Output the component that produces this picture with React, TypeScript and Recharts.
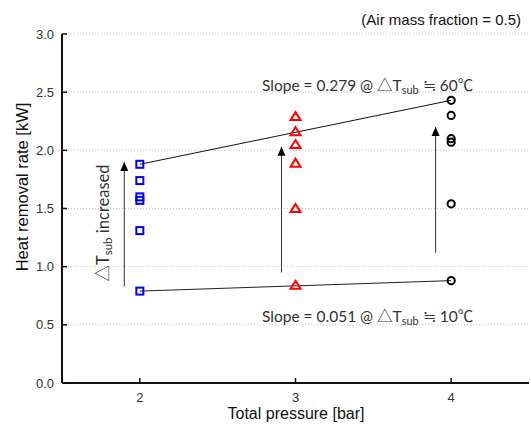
import { CartesianGrid, ComposedChart, Line, ReferenceLine, Scatter, XAxis, YAxis } from "recharts";

const pressureTicks = [2, 3, 4];
const rateTicks = [0, 0.5, 1, 1.5, 2, 2.5, 3];

const bluePressure = 2;
const blueRates = [1.88, 1.74, 1.6, 1.57, 1.31, 0.79];
const redPressure = 3;
const redRates = [2.29, 2.16, 2.05, 1.89, 1.5, 0.84];
const blackPressure = 4;
const blackRates = [2.43, 2.3, 2.1, 2.07, 1.54, 0.88];

const fitHigh = [
  { x: 2, y: 1.88 },
  { x: 4, y: 2.43 },
];
const fitLow = [
  { x: 2, y: 0.79 },
  { x: 4, y: 0.88 },
];

const arrowX = [1.9, 2.91, 3.9];
const arrowFrom = [0.83, 0.95, 1.12];
const arrowTo = [1.9, 2.03, 2.2];

const W = 531;
const H = 430;
const sans = "Arial, 'Liberation Sans', sans-serif";
const note = "Lato, 'Noto Sans CJK KR', sans-serif";

const toPts = (x: number, ys: number[]) => ys.map((y) => ({ x, y }));
const arrowHeads = arrowX.map((x, i) => ({ x, y: arrowTo[i] }));

const Square = ({ cx, cy }: any) => (
  <rect x={cx - 3.5} y={cy - 3.5} width={7} height={7} fill="none" stroke="#0000ff" strokeWidth={2} />
);
const Tri = ({ cx, cy }: any) => (
  <path d={`M${cx},${cy - 4.5} L${cx + 5},${cy + 3.5} L${cx - 5},${cy + 3.5} Z`} fill="none" stroke="#ff0000" strokeWidth={2} />
);
const Ring = ({ cx, cy }: any) => <circle cx={cx} cy={cy} r={3.6} fill="none" stroke="#000" strokeWidth={2} />;
const Head = ({ cx, cy }: any) => <path d={`M${cx},${cy} L${cx + 4},${cy + 9} L${cx - 4},${cy + 9} Z`} fill="#000" />;

const BottomTick = ({ x, y, payload }: any) => (
  <g>
    <line x1={x} x2={x} y1={y} y2={y - 5} stroke="#111" strokeWidth={1.5} />
    <text x={x} y={y + 19} textAnchor="middle" fontSize={13} fill="#333" fontFamily={sans}>
      {payload.value}
    </text>
  </g>
);
const TopTick = ({ x, y }: any) => <line x1={x} x2={x} y1={y} y2={y + 5} stroke="#111" strokeWidth={1.5} />;
const LeftTick = ({ x, y, payload }: any) => (
  <g>
    <line x1={x} x2={x + 5} y1={y} y2={y} stroke="#111" strokeWidth={1.5} />
    <text x={x - 8} y={y + 4.5} textAnchor="end" fontSize={13} fill="#333" fontFamily={sans}>
      {Number(payload.value).toFixed(1)}
    </text>
  </g>
);

export default function App() {
  return (
    <div style={{ position: "absolute", left: 0, top: 0, width: W, height: H, background: "#fff" }}>
      <ComposedChart width={W} height={H} margin={{ top: 34, right: 2, bottom: 0, left: 0 }}>
        <CartesianGrid vertical={false} stroke="#c4c4c4" strokeDasharray="1 2" />
        <XAxis
          dataKey="x"
          type="number"
          domain={[1.5, 4.5]}
          ticks={pressureTicks}
          interval={0}
          height={47}
          tickSize={0}
          tickMargin={0}
          tickLine={false}
          axisLine={{ stroke: "#111", strokeWidth: 2 }}
          tick={<BottomTick />}
          allowDataOverflow
        />
        <XAxis
          xAxisId="top"
          orientation="top"
          type="number"
          domain={[1.5, 4.5]}
          ticks={pressureTicks}
          interval={0}
          height={0}
          tickSize={0}
          tickMargin={0}
          tickLine={false}
          axisLine={{ stroke: "#111", strokeWidth: 2 }}
          tick={<TopTick />}
          allowDataOverflow
        />
        <YAxis
          dataKey="y"
          type="number"
          domain={[0, 3]}
          ticks={rateTicks}
          interval={0}
          width={62}
          tickSize={0}
          tickMargin={0}
          tickLine={false}
          axisLine={{ stroke: "#111", strokeWidth: 2 }}
          tick={<LeftTick />}
          allowDataOverflow
        />
        <YAxis
          yAxisId="r"
          orientation="right"
          type="number"
          domain={[0, 3]}
          width={0}
          tick={false}
          tickLine={false}
          axisLine={{ stroke: "#111", strokeWidth: 2 }}
        />
        <Line data={fitHigh} dataKey="y" stroke="#111" strokeWidth={1} dot={false} isAnimationActive={false} />
        <Line data={fitLow} dataKey="y" stroke="#222" strokeWidth={1} dot={false} isAnimationActive={false} />
        {arrowX.map((x, i) => (
          <ReferenceLine
            key={i}
            segment={[
              { x, y: arrowFrom[i] },
              { x, y: arrowTo[i] },
            ]}
            stroke="#333"
            strokeWidth={1}
          />
        ))}
        <Scatter data={arrowHeads} shape={<Head />} isAnimationActive={false} />
        <Scatter data={toPts(bluePressure, blueRates)} shape={<Square />} isAnimationActive={false} />
        <Scatter data={toPts(redPressure, redRates)} shape={<Tri />} isAnimationActive={false} />
        <Scatter data={toPts(blackPressure, blackRates)} shape={<Ring />} isAnimationActive={false} />
      </ComposedChart>
      <svg width={W} height={H} style={{ position: "absolute", left: 0, top: 0, pointerEvents: "none" }}>
        <text x={521} y={25} textAnchor="end" fontSize={15} fill="#111" fontFamily={sans}>
          (Air mass fraction = 0.5)
        </text>
        <text x={296} y={419} textAnchor="middle" fontSize={16} fill="#111" fontFamily={sans}>
          Total pressure [bar]
        </text>
        <text x={28} y={187} textAnchor="middle" fontSize={16.5} fill="#111" fontFamily={sans} transform="rotate(-90 28 187)">
          Heat removal rate [kW]
        </text>
        <text x={262} y={91} fontSize={15.5} fill="#333" fontFamily={note}>
          Slope = 0.279 @ △T<tspan fontSize={11} dy={3}>sub</tspan>
          <tspan dy={-3}> ≒ 60℃</tspan>
        </text>
        <text x={262} y={322} fontSize={15.5} fill="#333" fontFamily={note}>
          Slope = 0.051 @ △T<tspan fontSize={11} dy={3}>sub</tspan>
          <tspan dy={-3}> ≒ 10℃</tspan>
        </text>
        <text x={109} y={223} textAnchor="middle" fontSize={16.5} fill="#333" fontFamily={note} transform="rotate(-90 109 223)">
          △T<tspan fontSize={11.5} dy={3}>sub</tspan>
          <tspan dy={-3}> increased</tspan>
        </text>
      </svg>
    </div>
  );
}
